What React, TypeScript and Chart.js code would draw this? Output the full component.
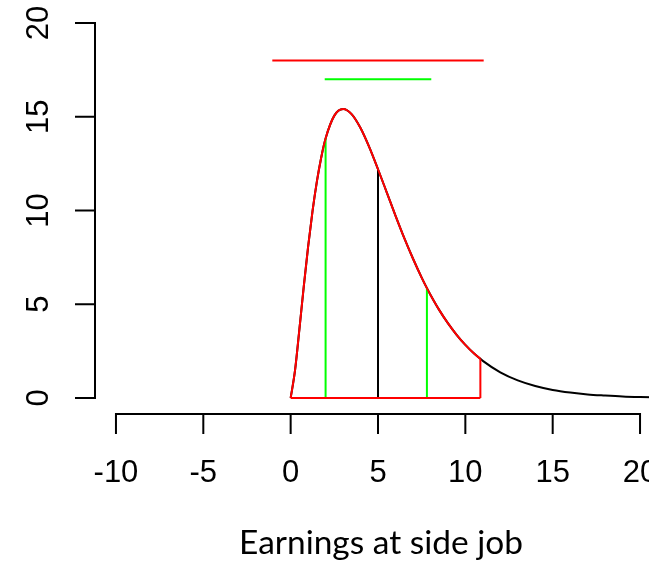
import React, { useEffect, useRef } from "react";
import { Chart, registerables } from "chart.js";

Chart.register(...registerables);

// Density curve (x, y)
const curveX = [0, 0.25, 0.5, 0.75, 1, 1.25, 1.5, 1.75, 2, 2.5, 3, 3.5, 4, 4.5, 5, 5.5, 6, 6.5, 7, 7.5, 7.8, 8, 8.5, 9, 9.5, 10, 10.5, 10.86, 11, 12, 13, 14, 15, 16, 17, 18, 19, 20, 21];
const curveY = [0, 1.47, 3.66, 5.94, 8.07, 9.95, 11.54, 12.83, 13.84, 15.06, 15.41, 15.13, 14.4, 13.38, 12.2, 10.97, 9.73, 8.54, 7.44, 6.42, 5.86, 5.51, 4.7, 3.99, 3.37, 2.83, 2.37, 2.09, 1.98, 1.37, 0.94, 0.64, 0.43, 0.29, 0.19, 0.13, 0.08, 0.05, 0.03];

// Shaded (red) region upper bound
const redUpper = 10.86;
// Vertical markers
const blackLineX = 5;
const greenLinesX = [2, 7.8];
// Interval segments
const redInterval = [-1.05, 11.05];
const redIntervalY = 18;
const greenInterval = [1.95, 8.05];
const greenIntervalY = 17;

const xTicks = [-10, -5, 0, 5, 10, 15, 20];
const yTicks = [0, 5, 10, 15, 20];
const xTitle = "Earnings at side job";

const valueAt = (x: number) => {
  const i = curveX.indexOf(x);
  return curveY[i];
};

export default function App() {
  const ref = useRef<HTMLCanvasElement | null>(null);

  useEffect(() => {
    if (!ref.current) return;
    const pts = curveX.map((x, i) => ({ x, y: curveY[i] }));
    const redPts = pts.filter((p) => p.x <= redUpper);

    const line = (data: any[], color: string, smooth = false) => ({
      data,
      borderColor: color,
      backgroundColor: color,
      borderWidth: 2,
      pointRadius: 0,
      showLine: true,
      fill: false,
      cubicInterpolationMode: smooth ? ("monotone" as const) : ("default" as const),
      tension: 0,
    });

    const axesPlugin = {
      id: "rAxes",
      afterDraw(chart: any) {
        const ctx = chart.ctx as CanvasRenderingContext2D;
        const xs = chart.scales.x;
        const ys = chart.scales.y;
        const area = chart.chartArea;
        ctx.save();
        ctx.strokeStyle = "#000";
        ctx.fillStyle = "#000";
        ctx.lineWidth = 2;
        ctx.lineCap = "butt";
        // x axis
        const ay = area.bottom + 1;
        const x0 = xs.getPixelForValue(xTicks[0]);
        const x1 = xs.getPixelForValue(xTicks[xTicks.length - 1]);
        ctx.beginPath();
        ctx.moveTo(x0 - 1, ay);
        ctx.lineTo(x1 + 1, ay);
        xTicks.forEach((t) => {
          const px = xs.getPixelForValue(t);
          ctx.moveTo(px, ay);
          ctx.lineTo(px, ay + 20);
        });
        ctx.stroke();
        ctx.font = "31px 'Liberation Sans', Arial, sans-serif";
        ctx.textAlign = "center";
        ctx.textBaseline = "middle";
        xTicks.forEach((t) => {
          ctx.fillText(String(t), xs.getPixelForValue(t), 473);
        });
        // y axis
        const axx = area.left;
        const yb = ys.getPixelForValue(yTicks[0]);
        const yt = ys.getPixelForValue(yTicks[yTicks.length - 1]);
        ctx.beginPath();
        ctx.moveTo(axx, yb + 1);
        ctx.lineTo(axx, yt - 1);
        yTicks.forEach((t) => {
          const py = ys.getPixelForValue(t);
          ctx.moveTo(axx, py);
          ctx.lineTo(axx - 20, py);
        });
        ctx.stroke();
        yTicks.forEach((t) => {
          const py = ys.getPixelForValue(t);
          ctx.save();
          ctx.translate(39, py);
          ctx.rotate(-Math.PI / 2);
          ctx.fillText(String(t), 0, 0);
          ctx.restore();
        });
        // title
        ctx.font = "30px Lato, 'Open Sans', sans-serif";
        const w = ctx.measureText(xTitle).width;
        const size = (30 * 284) / w;
        ctx.font = `${size}px Lato, 'Open Sans', sans-serif`;
        ctx.textBaseline = "alphabetic";
        ctx.fillText(xTitle, (area.left + area.right) / 2 + 3, 554);
        ctx.restore();
      },
    };

    const chart = new Chart(ref.current, {
      type: "scatter",
      data: {
        datasets: [
          line(redPts, "#FF0000", true),
          line([{ x: redUpper, y: valueAt(redUpper) }, { x: redUpper, y: 0 }], "#FF0000"),
          line([{ x: 0, y: 0 }, { x: redUpper, y: 0 }], "#FF0000"),
          line([{ x: redInterval[0], y: redIntervalY }, { x: redInterval[1], y: redIntervalY }], "#FF0000"),
          line([{ x: greenInterval[0], y: greenIntervalY }, { x: greenInterval[1], y: greenIntervalY }], "#00FF00"),
          ...greenLinesX.map((gx) => line([{ x: gx, y: 0 }, { x: gx, y: valueAt(gx) }], "#00FF00")),
          line([{ x: blackLineX, y: 0 }, { x: blackLineX, y: valueAt(blackLineX) }], "#000000"),
          line(pts, "#000000", true),
        ],
      },
      options: {
        responsive: false,
        maintainAspectRatio: false,
        animation: false,
        devicePixelRatio: 1,
        layout: { padding: { left: 95, right: 19, top: 8, bottom: 149 } },
        plugins: { legend: { display: false }, tooltip: { enabled: false } },
        scales: {
          x: { type: "linear", min: -11.2, max: 21.2, display: false },
          y: { type: "linear", min: -0.8, max: 20.8, display: false },
        },
      },
      plugins: [axesPlugin],
    });
    return () => chart.destroy();
  }, []);

  return (
    <div style={{ position: "absolute", left: 0, top: 0, width: 649, height: 562, overflow: "hidden", background: "#fff" }}>
      <canvas ref={ref} width={680} height={562} style={{ width: 680, height: 562, display: "block" }} />
    </div>
  );
}
